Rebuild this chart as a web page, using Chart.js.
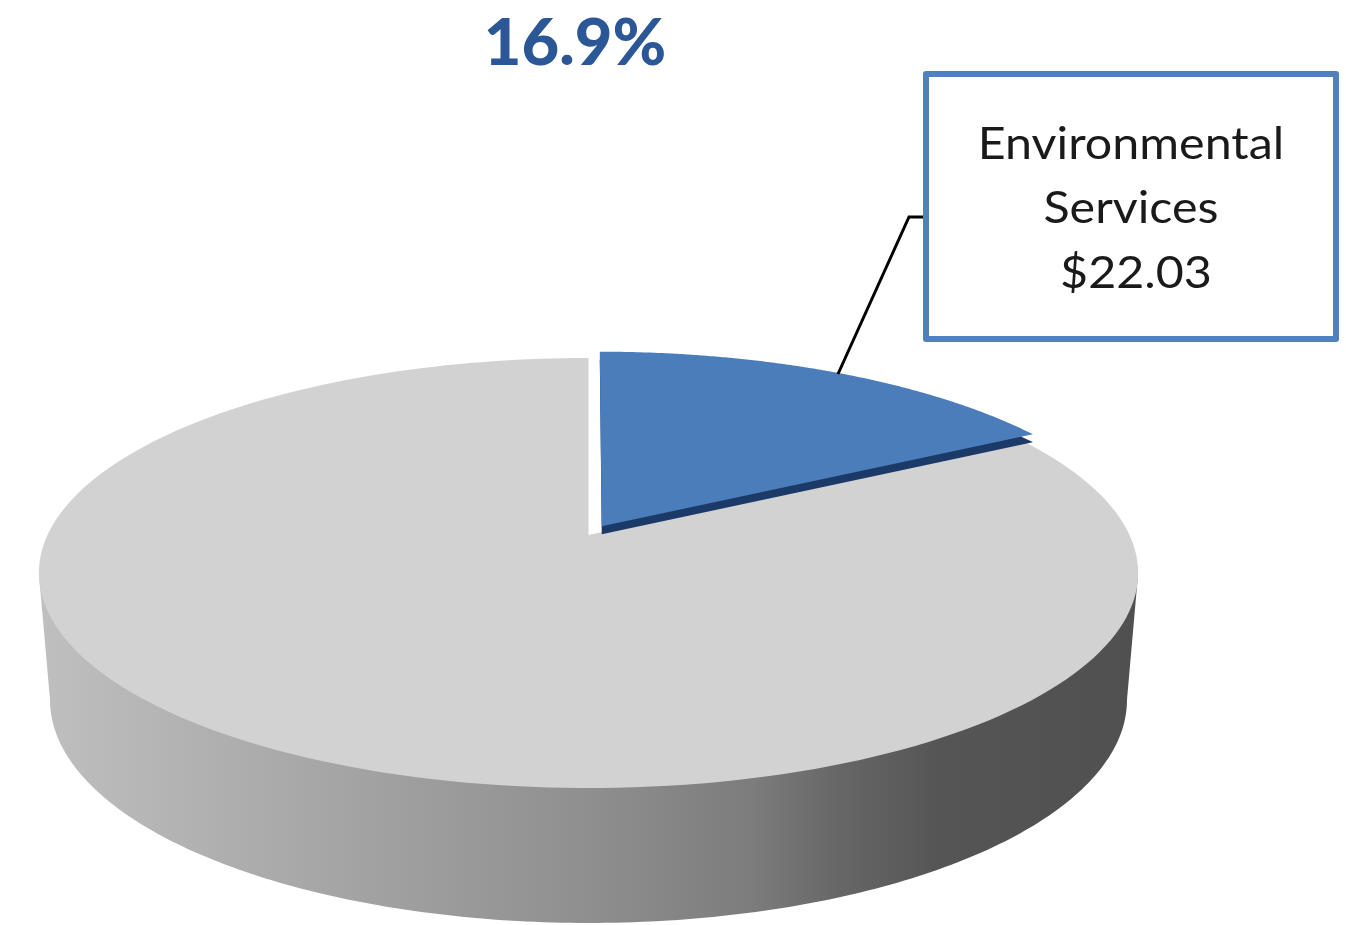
<!DOCTYPE html>
<html>
<head>
<meta charset="utf-8">
<script src="https://cdn.jsdelivr.net/npm/chart.js@4"></script>
<style>
  html, body { margin: 0; padding: 0; background: #fff; }
  canvas { display: block; }
</style>
</head>
<body>
<canvas id="pie" width="1346" height="925"></canvas>
<script>
// values
const categories = ['All other services', 'Environmental Services'];
const costs = [108.33, 22.03];
const sliceColors = ['#d2d2d2', '#4a7dba'];
const explode = [0, 22];
const headline = '16.9%';
const calloutLines = ['Environmental', 'Services', '$22.03'];

// the pie top is a circle seen in perspective, so the centre is not the middle of the ellipse
const view = { x: 588.5, y: 535, rx: 541, ry: 208.3, k: -0.1767 };
const floor = { x: 588.5, y: 660.6, rx: 530, ry: 216, k: -0.1767 };

function project(p, u, v) {
  const w = 1 + p.k * v;
  return [p.x + p.rx * u / w, p.y + p.ry * v / w];
}

function slicePath(ctx, el, dy) {
  const e = el.options.offset ? el.options.offset / el.outerRadius : 0;
  const mid = (el.startAngle + el.endAngle) / 2;
  const ox = e * Math.cos(mid), oy = e * Math.sin(mid);
  ctx.beginPath();
  let pt = project(view, ox, oy);
  ctx.moveTo(pt[0], pt[1] + dy);
  const steps = 200;
  for (let i = 0; i <= steps; i++) {
    const a = el.startAngle + (el.endAngle - el.startAngle) * i / steps;
    pt = project(view, ox + Math.cos(a), oy + Math.sin(a));
    ctx.lineTo(pt[0], pt[1] + dy);
  }
  ctx.closePath();
}

// arcs still come from the library, only their path goes through the projection
Chart.ArcElement.prototype.draw = function (ctx) {
  ctx.save();
  if (this.options.offset) {
    slicePath(ctx, this, 8);
    ctx.fillStyle = '#1b3a68';
    ctx.fill();
  }
  slicePath(ctx, this, 0);
  ctx.fillStyle = this.options.backgroundColor;
  ctx.fill();
  ctx.restore();
};

const wallPlugin = {
  id: 'wall',
  beforeDatasetsDraw(chart) {
    const ctx = chart.ctx;
    const grad = ctx.createLinearGradient(40, 0, 1138, 0);
    grad.addColorStop(0, '#bfbfbf');
    grad.addColorStop(0.3, '#a2a2a2');
    grad.addColorStop(0.5, '#8f8f8f');
    grad.addColorStop(0.65, '#7c7c7c');
    grad.addColorStop(0.73, '#666666');
    grad.addColorStop(0.82, '#555555');
    grad.addColorStop(1, '#505050');
    ctx.save();
    ctx.beginPath();
    // top rim widest point, down to the floor, round the front and back up
    const tilt = Math.asin(-view.k);
    let pt = project(view, -Math.cos(tilt), Math.sin(tilt));
    ctx.moveTo(pt[0], pt[1]);
    for (let i = 0; i <= 200; i++) {
      const a = Math.PI - tilt - (Math.PI - 2 * tilt) * i / 200;
      pt = project(floor, Math.cos(a), Math.sin(a));
      ctx.lineTo(pt[0], pt[1]);
    }
    pt = project(view, Math.cos(tilt), Math.sin(tilt));
    ctx.lineTo(pt[0], pt[1]);
    ctx.closePath();
    ctx.fillStyle = grad;
    ctx.fill();
    ctx.restore();
  }
};

const calloutPlugin = {
  id: 'callout',
  afterDraw(chart) {
    const ctx = chart.ctx;
    ctx.save();
    // headline
    ctx.fillStyle = '#2b5797';
    ctx.font = '900 65px Lato';
    ctx.textAlign = 'center';
    ctx.textBaseline = 'alphabetic';
    ctx.fillText(headline, 575, 65);
    // leader line
    ctx.strokeStyle = '#000';
    ctx.lineWidth = 3;
    ctx.beginPath();
    ctx.moveTo(838, 374);
    ctx.lineTo(909, 217);
    ctx.lineTo(925, 217);
    ctx.stroke();
    // box
    ctx.fillStyle = '#fff';
    ctx.strokeStyle = '#4f81bd';
    ctx.lineWidth = 6;
    ctx.lineJoin = 'round';
    ctx.beginPath();
    ctx.rect(926, 74, 410, 265);
    ctx.fill();
    ctx.stroke();
    // the source text is a little wider than Lato, so stretch it
    ctx.fillStyle = '#1a1a1a';
    ctx.font = '44px Lato';
    const base = [159, 223, 288];
    const mids = [1131, 1131, 1136];
    const stretch = 1.1;
    calloutLines.forEach((line, i) => {
      ctx.save();
      ctx.translate(mids[i], base[i]);
      ctx.scale(stretch, 1);
      ctx.fillText(line, 0, 0);
      ctx.restore();
    });
    ctx.restore();
  }
};

new Chart(document.getElementById('pie'), {
  type: 'pie',
  data: {
    labels: categories,
    datasets: [{
      data: costs,
      backgroundColor: sliceColors,
      offset: explode,
      borderWidth: 0
    }]
  },
  options: {
    responsive: false,
    animation: false,
    rotation: costs[1] / (costs[0] + costs[1]) * 360,
    plugins: {
      legend: { display: false },
      tooltip: { enabled: false }
    }
  },
  plugins: [wallPlugin, calloutPlugin]
});
</script>
</body>
</html>
